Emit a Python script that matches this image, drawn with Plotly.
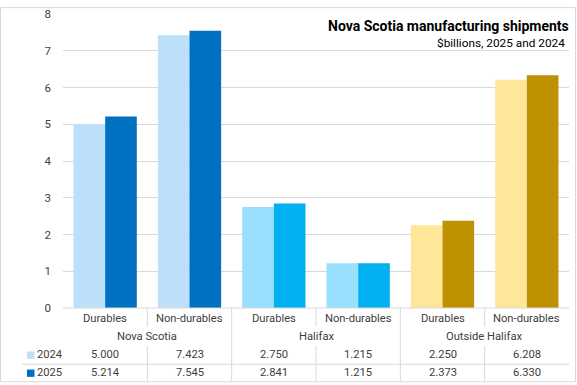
import plotly.graph_objects as go

groups = ["Nova Scotia", "Nova Scotia", "Halifax", "Halifax", "Outside Halifax", "Outside Halifax"]
categories = ["Durables", "Non-durables", "Durables", "Non-durables", "Durables", "Non-durables"]
values_2024 = [5.000, 7.423, 2.750, 1.215, 2.250, 6.208]
values_2025 = [5.214, 7.545, 2.841, 1.215, 2.373, 6.330]
series_names = ["2024", "2025"]
colors_2024 = ["#BDE0FA", "#BDE0FA", "#99E0FF", "#99E0FF", "#FFE699", "#FFE699"]
colors_2025 = ["#0070C0", "#0070C0", "#00B0F0", "#00B0F0", "#BF9000", "#BF9000"]
y_ticks = [0, 1, 2, 3, 4, 5, 6, 7, 8]

FONT = "Roboto, Liberation Sans, sans-serif"
TXT = "#404040"
LINE = "#D9D9D9"
FS = 11.2

W, H = 577, 385
ML, MR, MT, MB = 63, 8, 7, 77
plot_h = H - MT - MB
plot_w = W - ML - MR
y0_px = H - MB


def py(p):
    return (y0_px - p) / plot_h


def px(p):
    return (p - ML) / plot_w


keys = [f"{g}|{c}" for g, c in zip(groups, categories)]

fig = go.Figure()
fig.add_trace(go.Bar(x=keys, y=values_2024, name=series_names[0],
                     marker=dict(color=colors_2024, line=dict(width=0)), hoverinfo="skip"))
fig.add_trace(go.Bar(x=keys, y=values_2025, name=series_names[1],
                     marker=dict(color=colors_2025, line=dict(width=0)), hoverinfo="skip"))

annotations = []
shapes = []

# Category row
for k, c in zip(keys, categories):
    annotations.append(dict(x=k, xref="x", y=py(319), yref="paper", text=c,
                            showarrow=False, font=dict(family=FONT, size=FS, color=TXT),
                            xanchor="center", yanchor="middle"))

# Group row
n = len(keys)
i = 0
while i < n:
    j = i
    while j + 1 < n and groups[j + 1] == groups[i]:
        j += 1
    annotations.append(dict(x=(i + j) / 2, xref="x", y=py(337), yref="paper", text=groups[i],
                            showarrow=False, font=dict(family=FONT, size=FS, color=TXT),
                            xanchor="center", yanchor="middle"))
    i = j + 1

# Data rows
rows = [(series_names[0], values_2024, colors_2024[0], 356),
        (series_names[1], values_2025, colors_2025[0], 374.5)]
for name, vals, col, ypx in rows:
    for k, v in zip(keys, vals):
        annotations.append(dict(x=k, xref="x", y=py(ypx), yref="paper", text=f"{v:.3f}",
                                showarrow=False, font=dict(family=FONT, size=FS, color=TXT),
                                xanchor="center", yanchor="middle"))
    annotations.append(dict(x=px(35), xref="paper", y=py(ypx), yref="paper",
                            text=name, showarrow=False,
                            font=dict(family=FONT, size=FS, color=TXT),
                            xanchor="left", yanchor="middle"))
    shapes.append(dict(type="rect", xref="paper", yref="paper",
                       x0=px(27), x1=px(34.5),
                       y0=py(ypx + 4), y1=py(ypx - 3.5), fillcolor=col, line=dict(width=0)))

# Table lines
shapes.append(dict(type="line", xref="paper", yref="paper", x0=0, x1=1,
                   y0=py(308), y1=py(308), line=dict(color=LINE, width=1)))
shapes.append(dict(type="line", xref="paper", yref="paper",
                   x0=px(22), x1=1,
                   y0=py(365.5), y1=py(365.5), line=dict(color=LINE, width=1)))
for b in range(1, n):
    xb = b - 0.5
    if groups[b] != groups[b - 1]:
        shapes.append(dict(type="line", xref="x", yref="paper", x0=xb, x1=xb,
                           y0=py(308), y1=py(383), line=dict(color=LINE, width=1)))
    else:
        shapes.append(dict(type="line", xref="x", yref="paper", x0=xb, x1=xb,
                           y0=py(308), y1=py(327), line=dict(color=LINE, width=1)))
        shapes.append(dict(type="line", xref="x", yref="paper", x0=xb, x1=xb,
                           y0=py(347), y1=py(383), line=dict(color=LINE, width=1)))

# Outer chart border
shapes.append(dict(type="rect", xref="paper", yref="paper",
                   x0=px(0.5), x1=px(W - 1.5),
                   y0=py(H - 1.5), y1=py(0.5), line=dict(color=LINE, width=1),
                   fillcolor="rgba(0,0,0,0)", layer="below"))

# Title and subtitle
annotations.append(dict(x=px(571), xref="paper", y=py(19), yref="paper",
                        text="<b>Nova Scotia manufacturing shipments</b>", showarrow=False,
                        font=dict(family=FONT, size=14, color="#000000"),
                        xanchor="right", yanchor="middle"))
annotations.append(dict(x=px(567), xref="paper", y=py(37), yref="paper",
                        text="$billions, 2025 and 2024", showarrow=False,
                        font=dict(family=FONT, size=11.8, color="#000000"),
                        xanchor="right", yanchor="middle"))

fig.update_layout(
    width=W, height=H,
    margin=dict(l=ML, r=MR, t=MT, b=MB, pad=0),
    paper_bgcolor="white", plot_bgcolor="white",
    barmode="group", bargap=0.25, bargroupgap=0,
    showlegend=False,
    hovermode=False,
    font=dict(family=FONT, color=TXT),
    xaxis=dict(showticklabels=False, showgrid=False, zeroline=False, showline=False,
               ticks="", fixedrange=True),
    yaxis=dict(range=[0, 8], tickvals=y_ticks, showgrid=True, gridcolor=LINE, gridwidth=1,
               zeroline=False, showline=False, ticks="",
               tickfont=dict(family=FONT, size=11.5, color=TXT),
               ticklabelstandoff=11, fixedrange=True),
    annotations=annotations,
    shapes=shapes,
)

fig.write_html("out.html", config={"displayModeBar": False, "staticPlot": True},
               post_script="document.body.style.margin='0';")
